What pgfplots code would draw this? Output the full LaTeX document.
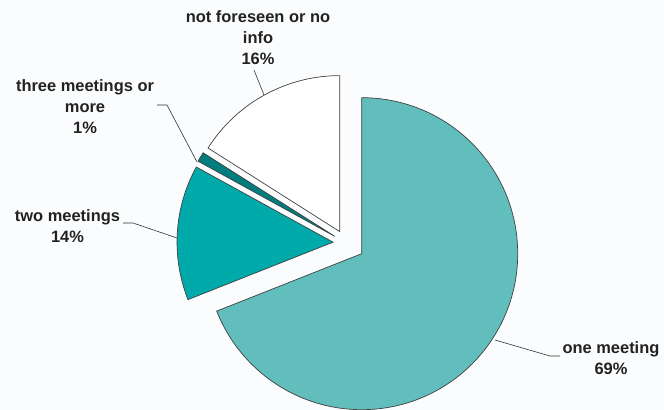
\documentclass[border=0pt]{standalone}
\usepackage{pgfplots}
\pgfplotsset{compat=1.18}
\usepackage{fontspec}
\setmainfont{Liberation Sans}
\usetikzlibrary{calc}
\definecolor{bg}{RGB}{250,252,253}
\definecolor{cone}{RGB}{98,189,189}
\definecolor{ctwo}{RGB}{0,170,170}
\definecolor{cthree}{RGB}{0,126,126}
\definecolor{txt}{RGB}{34,34,34}
% share of each slice (percent), drawn clockwise from 12 o'clock
\pgfplotstableread{
name   pct  explode
one    69   19
two    14   13
three  1    13
nf     16   13
}\piedata
% #1 start angle, #2 percent, #3 explode (bp), #4 fill
\newcommand{\slice}[4]{%
  \filldraw[fill=#4,draw=black!75,line width=0.7pt]
    ($(axis cs:346,167)+({#1-1.8*(#2)}:#3bp)$) -- ++({#1}:156bp)
    arc[start angle={#1},end angle={#1-3.6*(#2)},radius=156bp] -- cycle;}
\begin{document}
\begin{tikzpicture}
\useasboundingbox (0,0) rectangle (664bp,410bp);
\fill[bg] (0,0) rectangle (664bp,410bp);
\begin{axis}[at={(0,0)},anchor=south west,
  width=664bp,height=410bp,scale only axis,
  xmin=0,xmax=664,ymin=0,ymax=410,
  hide axis,clip=false]
\pgfplotstablegetelem{0}{pct}\of\piedata\edef\pA{\pgfplotsretval}
\pgfplotstablegetelem{1}{pct}\of\piedata\edef\pB{\pgfplotsretval}
\pgfplotstablegetelem{2}{pct}\of\piedata\edef\pC{\pgfplotsretval}
\pgfplotstablegetelem{3}{pct}\of\piedata\edef\pD{\pgfplotsretval}
\edef\doslices{%
\noexpand\slice{90}{\pA}{19}{cone}%
\noexpand\slice{90-3.6*\pA}{\pB}{13}{ctwo}%
\noexpand\slice{90-3.6*(\pA+\pB)}{\pC}{13}{cthree}%
\noexpand\slice{90-3.6*(\pA+\pB+\pC)}{\pD}{13}{white}}
\doslices
% leader lines
\draw[black!80,line width=0.6pt] (axis cs:254,340) -- (axis cs:264,315);
\draw[black!80,line width=0.6pt] (axis cs:157,305) -- (axis cs:167,305) -- (axis cs:197,248);
\draw[black!80,line width=0.6pt] (axis cs:123,187) -- (axis cs:133,187) -- (axis cs:177,172);
\draw[black!80,line width=0.6pt] (axis cs:495,70) -- (axis cs:550,54) -- (axis cs:560,54);
% labels (anchor=base is the baseline of the last line)
\tikzset{lbl/.style={align=center,text=txt,inner sep=0pt,
  font=\fontsize{16.5}{21}\selectfont\bfseries}}
\node[lbl,anchor=base] at (axis cs:258,346) {not foreseen or no\\info\\16\%};
\node[lbl,anchor=base] at (axis cs:85,277) {three meetings or\\more\\1\%};
\node[lbl,anchor=base] at (axis cs:67.5,168) {two meetings\\14\%};
\node[lbl,anchor=base] at (axis cs:611,36) {one meeting\\69\%};
\end{axis}
\end{tikzpicture}
\end{document}
